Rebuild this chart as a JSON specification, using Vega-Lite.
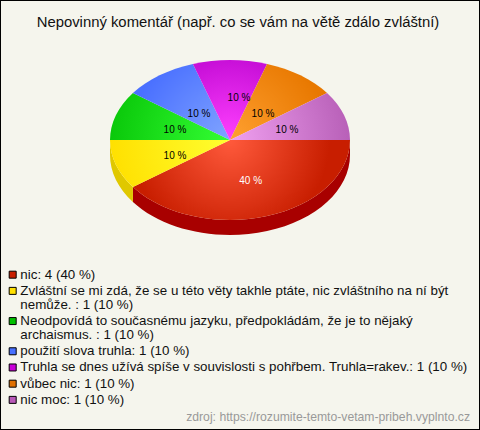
{
"$schema":"https://vega.github.io/schema/vega-lite/v6.json",
"description":"Ellipticky 3D kolac: vysece jsou vlastni SVG cesty znacky point, protoze znacka arc umi jen kruh. Uhly cest (144 a 36 stupnu) odpovidaji hodnotam pocet, ale nejsou z nich pocitany.",
"width":480,"height":430,"padding":0,"autosize":{"type":"none"},
"background":"#f5f5ed",
"view":{"stroke":"#000","strokeWidth":2,"fill":"#f5f5ed"},
"title":{"text":"Nepovinný komentář (např. co se vám na větě zdálo zvláštní)","anchor":"middle","frame":"group","font":"Liberation Sans","fontSize":14.85,"fontWeight":"normal","color":"#111","baseline":"alphabetic","offset":0,"dy":42,"dx":-2},
"data":{"values":[
{"poradi":1,"komentar":"nic: 4 (40 %)","pocet":4,"podil":"40 %"},
{"poradi":2,"komentar":"Zvláštní se mi zdá, že se u této věty takhle ptáte, nic zvláštního na ní být|nemůže. : 1 (10 %)","pocet":1,"podil":"10 %"},
{"poradi":3,"komentar":"Neodpovídá to současnému jazyku, předpokládám, že je to nějaký|archaismus. : 1 (10 %)","pocet":1,"podil":"10 %"},
{"poradi":4,"komentar":"použití slova truhla: 1 (10 %)","pocet":1,"podil":"10 %"},
{"poradi":5,"komentar":"Truhla se dnes užívá spíše v souvislosti s pohřbem. Truhla=rakev.: 1 (10 %)","pocet":1,"podil":"10 %"},
{"poradi":6,"komentar":"vůbec nic: 1 (10 %)","pocet":1,"podil":"10 %"},
{"poradi":7,"komentar":"nic moc: 1 (10 %)","pocet":1,"podil":"10 %"}
]},
"layer":[
{"transform":[{"filter":"datum.poradi==1"}],"mark":{"type":"point","filled":true,"opacity":1,"size":4,"fill":"#a80000","shape":"M110 -75 A120 80 0 0 1 -107.08 -27.98 L-107.08 -12.98 A120 80 0 0 0 110 -60 Z"}},
{"transform":[{"filter":"datum.poradi==2"}],"mark":{"type":"point","filled":true,"opacity":1,"size":4,"fill":"#e0c800","shape":"M-107.08 -27.98 A120 80 0 0 1 -130 -75 L-130 -60 A120 80 0 0 0 -107.08 -12.98 Z"}},
{"transform":[{"filter":"datum.poradi==1"}],"mark":{"type":"point","filled":true,"opacity":1,"size":4,"shape":"M-10 -75 L110 -75 A120 80 0 0 1 -107.08 -27.98 Z","fill":{"gradient":"radial","x1":0.447,"y1":0.316,"r1":0,"x2":0.447,"y2":0.316,"r2":0.46,"stops":[{"offset":0,"color":"#ff5a3c"},{"offset":1,"color":"#c81e00"}]}}},
{"transform":[{"filter":"datum.poradi==2"}],"mark":{"type":"point","filled":true,"opacity":1,"size":4,"shape":"M-10 -75 L-107.08 -27.98 A120 80 0 0 1 -130 -75 Z","fill":{"gradient":"radial","x1":1,"y1":0.304,"r1":0,"x2":1,"y2":0.304,"r2":1,"stops":[{"offset":0,"color":"#ffff30"},{"offset":1,"color":"#ffe000"}]}}},
{"transform":[{"filter":"datum.poradi==3"}],"mark":{"type":"point","filled":true,"opacity":1,"size":4,"shape":"M-10 -75 L-130 -75 A120 80 0 0 1 -107.08 -122.02 Z","fill":{"gradient":"radial","x1":1,"y1":0.696,"r1":0,"x2":1,"y2":0.696,"r2":1,"stops":[{"offset":0,"color":"#34ff34"},{"offset":1,"color":"#0ac80a"}]}}},
{"transform":[{"filter":"datum.poradi==4"}],"mark":{"type":"point","filled":true,"opacity":1,"size":4,"shape":"M-10 -75 L-107.08 -122.02 A120 80 0 0 1 -47.08 -151.08 Z","fill":{"gradient":"radial","x1":1,"y1":0.892,"r1":0,"x2":1,"y2":0.892,"r2":1.03,"stops":[{"offset":0,"color":"#80a4ff"},{"offset":1,"color":"#4a70ff"}]}}},
{"transform":[{"filter":"datum.poradi==5"}],"mark":{"type":"point","filled":true,"opacity":1,"size":4,"shape":"M-10 -75 L-47.08 -151.08 A120 80 0 0 1 27.08 -151.08 Z","fill":{"gradient":"radial","x1":0.5,"y1":1,"r1":0,"x2":0.5,"y2":1,"r2":1,"stops":[{"offset":0,"color":"#ff40ff"},{"offset":1,"color":"#c810d8"}]}}},
{"transform":[{"filter":"datum.poradi==6"}],"mark":{"type":"point","filled":true,"opacity":1,"size":4,"shape":"M-10 -75 L27.08 -151.08 A120 80 0 0 1 87.08 -122.02 Z","fill":{"gradient":"radial","x1":0,"y1":0.892,"r1":0,"x2":0,"y2":0.892,"r2":1.03,"stops":[{"offset":0,"color":"#ffa030"},{"offset":1,"color":"#e87800"}]}}},
{"transform":[{"filter":"datum.poradi==7"}],"mark":{"type":"point","filled":true,"opacity":1,"size":4,"shape":"M-10 -75 L87.08 -122.02 A120 80 0 0 1 110 -75 Z","fill":{"gradient":"radial","x1":0,"y1":0.696,"r1":0,"x2":0,"y2":0.696,"r2":1,"stops":[{"offset":0,"color":"#f0a0f0"},{"offset":1,"color":"#b860b8"}]}}},
{"mark":{"type":"point","shape":"square","filled":true,"opacity":1,"size":0},
 "encoding":{"color":{"field":"komentar","type":"nominal","sort":null,
  "scale":{"range":["#c81e00","#ffe000","#00c000","#4870ff","#c800d8","#e07000","#b858b8"]},
  "legend":{"title":null,"orient":"none","legendX":6,"legendY":268,"symbolType":"square","symbolSize":49,"symbolStrokeColor":"#000","symbolStrokeWidth":1,"symbolOpacity":1,"labelFont":"Liberation Sans","labelFontSize":13.35,"labelColor":"#111","labelLimit":470,"labelOffset":1,"rowPadding":1.2,"labelExpr":"split(datum.label,'|')","labelBaseline":"middle","labelOverlap":false,"encode":{"symbols":{"update":{"stroke":{"value":"#000"},"strokeWidth":{"value":1}}},"labels":{"update":{"lineHeight":{"value":14}}}}}}}},
{"transform":[{"filter":"datum.poradi==1"}],"mark":{"type":"text","font":"Liberation Sans","fontSize":10,"fill":"#fff","dx":10.7,"dy":-34},"encoding":{"text":{"field":"podil"}}},
{"transform":[{"filter":"datum.poradi==2"}],"mark":{"type":"text","font":"Liberation Sans","fontSize":10,"fill":"#000","dx":-65,"dy":-59},"encoding":{"text":{"field":"podil"}}},
{"transform":[{"filter":"datum.poradi==3"}],"mark":{"type":"text","font":"Liberation Sans","fontSize":10,"fill":"#000","dx":-65,"dy":-85},"encoding":{"text":{"field":"podil"}}},
{"transform":[{"filter":"datum.poradi==4"}],"mark":{"type":"text","font":"Liberation Sans","fontSize":10,"fill":"#000","dx":-41,"dy":-101},"encoding":{"text":{"field":"podil"}}},
{"transform":[{"filter":"datum.poradi==5"}],"mark":{"type":"text","font":"Liberation Sans","fontSize":10,"fill":"#000","dx":-1,"dy":-117},"encoding":{"text":{"field":"podil"}}},
{"transform":[{"filter":"datum.poradi==6"}],"mark":{"type":"text","font":"Liberation Sans","fontSize":10,"fill":"#000","dx":23,"dy":-101},"encoding":{"text":{"field":"podil"}}},
{"transform":[{"filter":"datum.poradi==7"}],"mark":{"type":"text","font":"Liberation Sans","fontSize":10,"fill":"#000","dx":47,"dy":-85},"encoding":{"text":{"field":"podil"}}},
{"data":{"values":[{"zdroj":"zdroj: https://rozumite-temto-vetam-pribeh.vyplnto.cz"}]},"mark":{"type":"text","font":"Liberation Sans","fontSize":12.2,"fill":"#999","align":"right","dx":230,"dy":202},"encoding":{"text":{"field":"zdroj"}}}
]
}
